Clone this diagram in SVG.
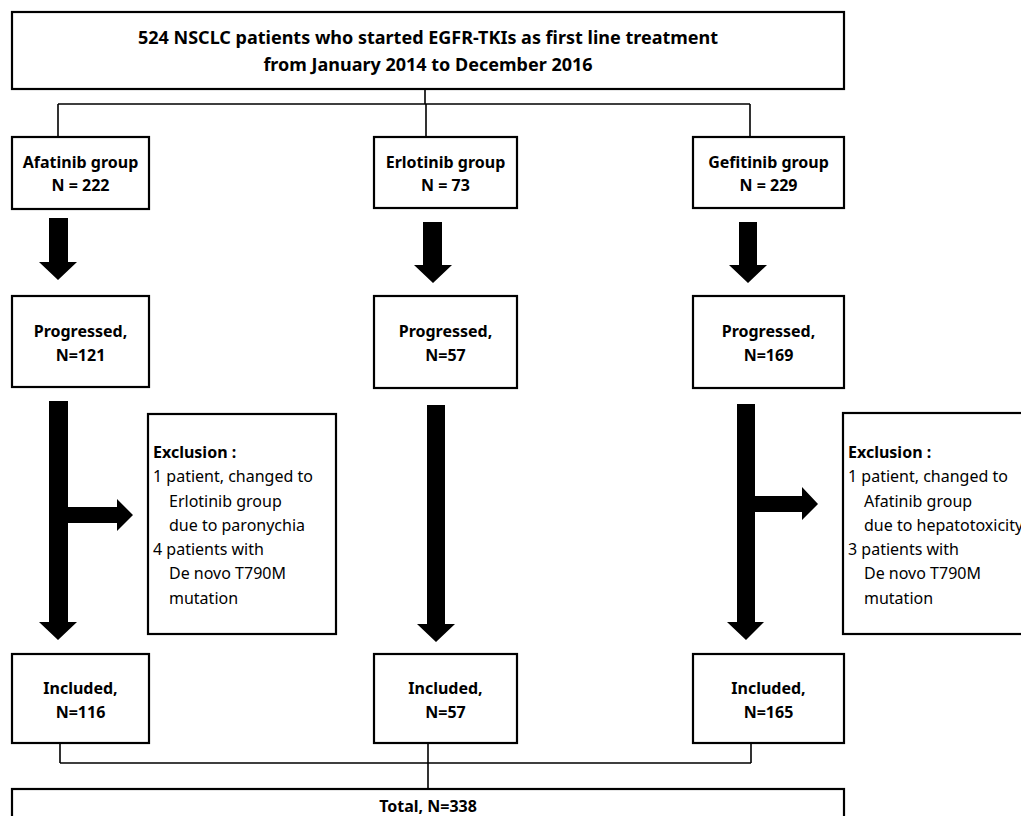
<svg xmlns="http://www.w3.org/2000/svg" width="1021" height="816" viewBox="0 0 1021 816">
<style>
.box{fill:#fff;stroke:#000;stroke-width:2.2}
.ln{fill:none;stroke:#000;stroke-width:1.6}
.ar{fill:#000;stroke:none}
text{font-family:"Noto Sans","Open Sans","DejaVu Sans",sans-serif;fill:#000}
.b{font-weight:bold;font-size:16px;text-anchor:middle}
.t{font-weight:bold;font-size:18px;text-anchor:middle}
.e{font-size:16px}
.eb{font-size:16px;font-weight:bold}
</style>
<rect width="1021" height="816" fill="#fff"/>
<g id="connectors">
<path class="ln" d="M425 89V104M58 104H750M58 104V137M426 104V137M750 104V137"/>
<path class="ln" d="M60 743V763M428 743V789M751 743V763M60 763H751"/>
<path class="ar" d="M49 218H68V262H77L58 280L39 262H49Z"/>
<path class="ar" d="M423 222H442V265H452L433 283L414 265H423Z"/>
<path class="ar" d="M739 222H757V265H767L748 283L729 265H739Z"/>
<path class="ar" d="M49 401H68V507H117V499L133 515L117 531V523H68V622H77L58 640L39 622H49Z"/>
<path class="ar" d="M427 405H445V624H455L436 642L417 624H427Z"/>
<path class="ar" d="M737 404H755V496H802V487L818 504L802 520V512H755V622H764L746 640L727 622H737Z"/>
</g>
<g id="start">
<rect class="box" x="12" y="12" width="832" height="77"/>
<text class="t" x="428" y="44">524 NSCLC patients who started EGFR-TKIs as first line treatment</text>
<text class="t" x="428" y="71">from January 2014 to December 2016</text>
</g>
<g id="afatinib">
<rect class="box" x="12" y="137" width="137" height="72"/>
<text class="b" x="80.5" y="168">Afatinib group</text>
<text class="b" x="80.5" y="191">N = 222</text>
</g>
<g id="erlotinib">
<rect class="box" x="374" y="137" width="143" height="71"/>
<text class="b" x="445.5" y="168">Erlotinib group</text>
<text class="b" x="445.5" y="191">N = 73</text>
</g>
<g id="gefitinib">
<rect class="box" x="693" y="137" width="151" height="71"/>
<text class="b" x="768.5" y="168">Gefitinib group</text>
<text class="b" x="768.5" y="191">N = 229</text>
</g>
<g id="prog-afatinib">
<rect class="box" x="12" y="296" width="137" height="91"/>
<text class="b" x="80.5" y="337">Progressed,</text>
<text class="b" x="80.5" y="361">N=121</text>
</g>
<g id="prog-erlotinib">
<rect class="box" x="374" y="296" width="143" height="92"/>
<text class="b" x="445.5" y="337">Progressed,</text>
<text class="b" x="445.5" y="361">N=57</text>
</g>
<g id="prog-gefitinib">
<rect class="box" x="693" y="296" width="151" height="92"/>
<text class="b" x="768.5" y="337">Progressed,</text>
<text class="b" x="768.5" y="361">N=169</text>
</g>
<g id="excl-afatinib">
<rect class="box" x="148" y="414" width="188" height="220"/>
<text class="eb" x="153" y="458">Exclusion :</text>
<text class="e" x="153" y="482">1 patient, changed to</text>
<text class="e" x="169" y="507">Erlotinib group</text>
<text class="e" x="169" y="531">due to paronychia</text>
<text class="e" x="153" y="555">4 patients with</text>
<text class="e" x="169" y="579">De novo T790M</text>
<text class="e" x="169" y="604">mutation</text>
</g>
<g id="excl-gefitinib">
<rect class="box" x="843" y="413" width="190" height="221"/>
<text class="eb" x="848" y="458">Exclusion :</text>
<text class="e" x="848" y="482">1 patient, changed to</text>
<text class="e" x="864" y="507">Afatinib group</text>
<text class="e" x="864" y="531">due to hepatotoxicity</text>
<text class="e" x="848" y="555">3 patients with</text>
<text class="e" x="864" y="579">De novo T790M</text>
<text class="e" x="864" y="604">mutation</text>
</g>
<g id="incl-afatinib">
<rect class="box" x="12" y="654" width="137" height="89"/>
<text class="b" x="80.5" y="694">Included,</text>
<text class="b" x="80.5" y="718">N=116</text>
</g>
<g id="incl-erlotinib">
<rect class="box" x="374" y="654" width="143" height="89"/>
<text class="b" x="445.5" y="694">Included,</text>
<text class="b" x="445.5" y="718">N=57</text>
</g>
<g id="incl-gefitinib">
<rect class="box" x="693" y="654" width="151" height="89"/>
<text class="b" x="768.5" y="694">Included,</text>
<text class="b" x="768.5" y="718">N=165</text>
</g>
<g id="total">
<rect class="box" x="12" y="789" width="832" height="40"/>
<text class="b" x="428" y="812">Total, N=338</text>
</g>
</svg>
